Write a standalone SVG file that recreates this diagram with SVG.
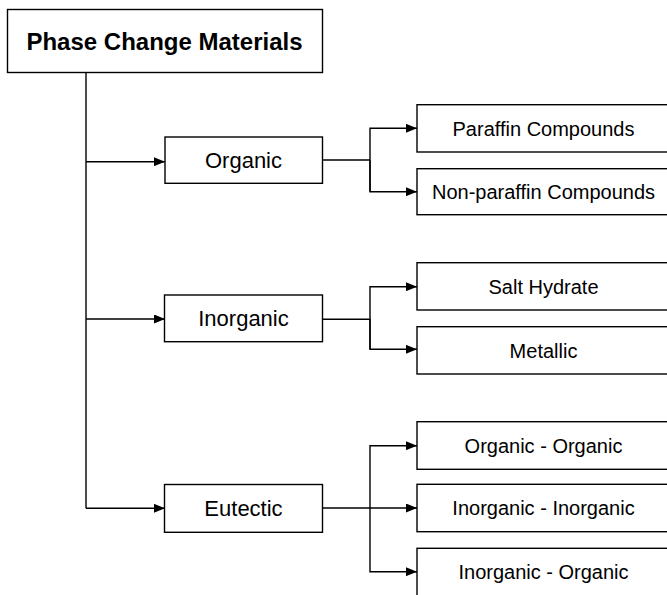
<svg xmlns="http://www.w3.org/2000/svg" width="667" height="595" viewBox="0 0 667 595">
<defs>
<marker id="arr" markerWidth="11" markerHeight="9" refX="11" refY="4.5" orient="auto" markerUnits="userSpaceOnUse">
<path d="M0,0 L11,4.5 L0,9 Z" fill="#000"/>
</marker>
<style>
.box{fill:#fff;stroke:#000;stroke-width:1.4}
.ln{fill:none;stroke:#000;stroke-width:1.4}
.t{font-family:"Liberation Sans",Arial,Helvetica,sans-serif;fill:#000;text-anchor:middle}
.t0{font-size:24px;font-weight:bold}
.t1{font-size:22px}
.t2{font-size:20px}
</style>
</defs>
<rect width="667" height="595" fill="#fff"/>
<g id="connectors">
<path class="ln" d="M86,72.5 V508.3"/>
<path class="ln" d="M86,161.7 H165" marker-end="url(#arr)"/>
<path class="ln" d="M86,319 H165" marker-end="url(#arr)"/>
<path class="ln" d="M86,508.3 H165" marker-end="url(#arr)"/>
<path class="ln" d="M322.5,160 H370"/>
<path class="ln" d="M370,191.7 V128.3 H417" marker-end="url(#arr)"/>
<path class="ln" d="M370,160 V191.7 H417" marker-end="url(#arr)"/>
<path class="ln" d="M322.5,319.3 H370"/>
<path class="ln" d="M370,349.3 V286.7 H417" marker-end="url(#arr)"/>
<path class="ln" d="M370,319 V349.3 H417" marker-end="url(#arr)"/>
<path class="ln" d="M322.5,508 H417" marker-end="url(#arr)"/>
<path class="ln" d="M370,508 V445.7 H417" marker-end="url(#arr)"/>
<path class="ln" d="M370,508 V571.7 H417" marker-end="url(#arr)"/>
</g>
<g id="root">
<rect class="box" x="7.5" y="9.5" width="315" height="63"/>
<text class="t t0" x="164.5" y="49.5">Phase Change Materials</text>
</g>
<g id="organic">
<rect class="box" x="165" y="137" width="157.5" height="46.3"/>
<text class="t t1" x="243.5" y="168">Organic</text>
</g>
<g id="inorganic">
<rect class="box" x="164.5" y="295" width="158" height="46.7"/>
<text class="t t1" x="243.5" y="326.3">Inorganic</text>
</g>
<g id="eutectic">
<rect class="box" x="164.5" y="484.5" width="158" height="47.8"/>
<text class="t t1" x="243.5" y="516.3">Eutectic</text>
</g>
<g id="paraffin">
<rect class="box" x="417" y="104.7" width="253" height="47.3"/>
<text class="t t2" x="543.5" y="135.5">Paraffin Compounds</text>
</g>
<g id="nonparaffin">
<rect class="box" x="417" y="168.7" width="253" height="46"/>
<text class="t t2" x="543.5" y="198.8">Non-paraffin Compounds</text>
</g>
<g id="salthydrate">
<rect class="box" x="417" y="262.7" width="253" height="47.3"/>
<text class="t t2" x="543.5" y="293.5">Salt Hydrate</text>
</g>
<g id="metallic">
<rect class="box" x="417" y="326.7" width="253" height="47.3"/>
<text class="t t2" x="543.5" y="357.5">Metallic</text>
</g>
<g id="orgorg">
<rect class="box" x="417" y="421.7" width="253" height="47.6"/>
<text class="t t2" x="543.5" y="452.7">Organic - Organic</text>
</g>
<g id="inorginorg">
<rect class="box" x="417" y="484.3" width="253" height="47.4"/>
<text class="t t2" x="543.5" y="515.2">Inorganic - Inorganic</text>
</g>
<g id="inorgorg">
<rect class="box" x="417" y="548.3" width="253" height="48"/>
<text class="t t2" x="543.5" y="579">Inorganic - Organic</text>
</g>
</svg>
